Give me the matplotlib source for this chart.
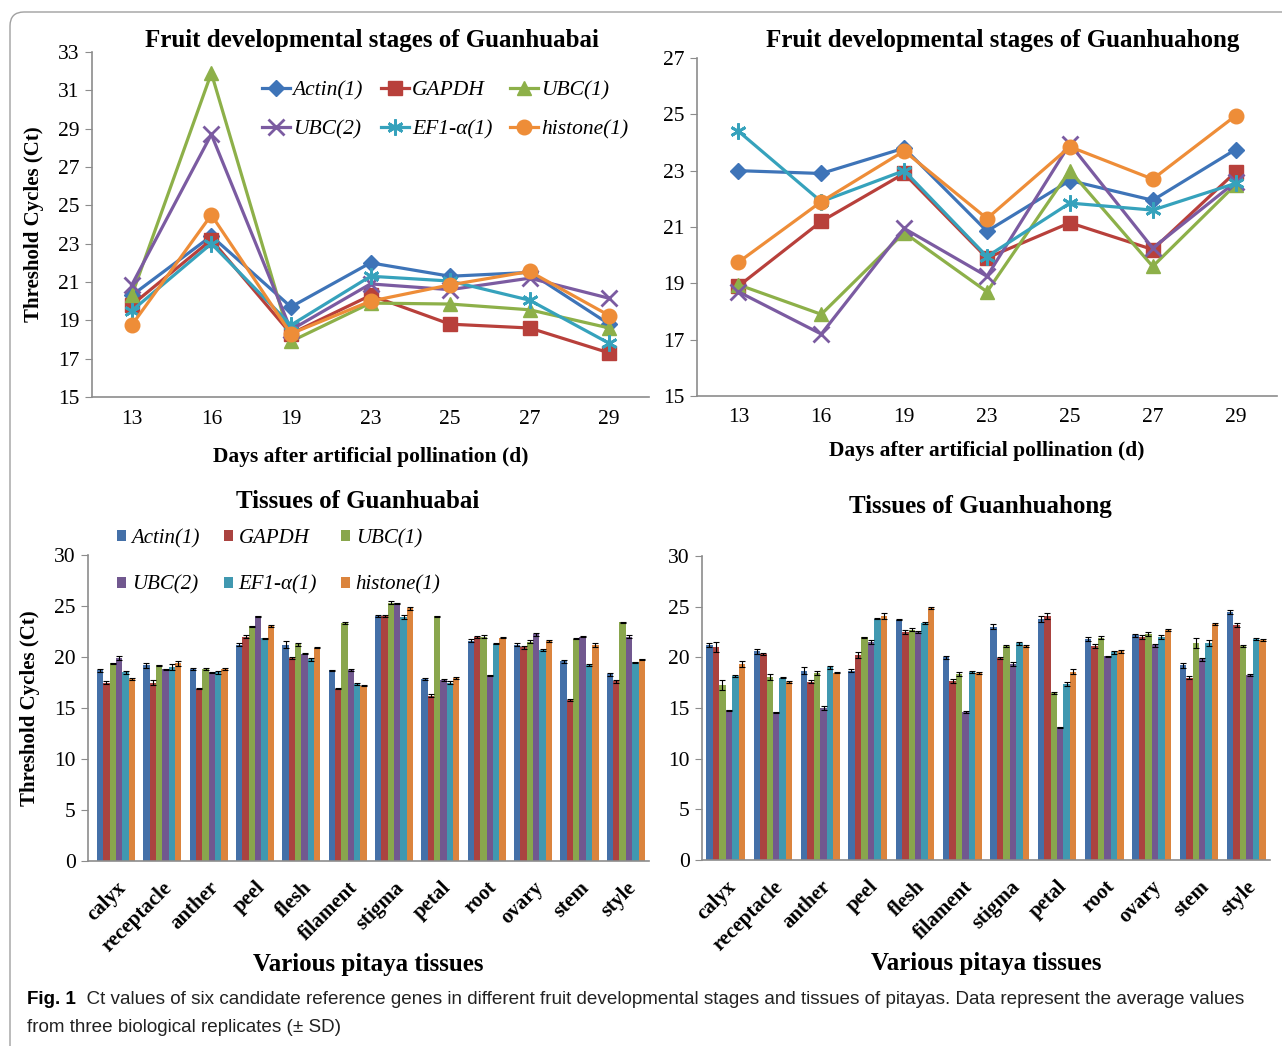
import matplotlib
matplotlib.use("Agg")
import matplotlib.pyplot as plt
import numpy as np
from matplotlib.patches import FancyBboxPatch
from matplotlib.transforms import IdentityTransform

plt.rcParams['font.family'] = ['Liberation Serif', 'DejaVu Serif']

genes = ["Actin(1)", "GAPDH", "UBC(1)", "UBC(2)", "EF1-α(1)", "histone(1)"]
days = ["13", "16", "19", "23", "25", "27", "29"]
tissues = ["calyx", "receptacle", "anther", "peel", "flesh", "filament",
           "stigma", "petal", "root", "ovary", "stem", "style"]

# Fruit developmental stages of Guanhuabai
bai_actin = [20.3, 23.4, 19.7, 22.0, 21.3, 21.5, 18.8]
bai_gapdh = [19.8, 23.2, 18.3, 20.3, 18.8, 18.6, 17.3]
bai_ubc1 = [20.3, 31.9, 17.9, 19.9, 19.85, 19.55, 18.6]
bai_ubc2 = [20.85, 28.7, 18.5, 20.9, 20.6, 21.2, 20.15]
bai_ef1 = [19.5, 23.0, 18.75, 21.3, 21.05, 20.05, 17.8]
bai_histone = [18.75, 24.5, 18.3, 20.0, 20.85, 21.55, 19.25]

# Fruit developmental stages of Guanhuahong
hong_actin = [23.0, 22.9, 23.8, 20.85, 22.65, 21.95, 23.75]
hong_gapdh = [18.9, 21.2, 22.9, 19.9, 21.15, 20.2, 22.95]
hong_ubc1 = [18.95, 17.9, 20.8, 18.7, 23.0, 19.6, 22.5]
hong_ubc2 = [18.7, 17.2, 20.95, 19.25, 23.95, 20.25, 22.6]
hong_ef1 = [24.4, 21.9, 23.0, 19.95, 21.85, 21.6, 22.55]
hong_histone = [19.75, 21.9, 23.7, 21.3, 23.85, 22.7, 24.95]

# Tissues of Guanhuabai
tb_actin = [18.7, 19.2, 18.8, 21.2, 21.2, 18.7, 24.0, 17.8, 21.6, 21.2, 19.6, 18.3]
tb_gapdh = [17.5, 17.5, 16.9, 22.0, 19.9, 16.9, 24.0, 16.2, 22.0, 20.95, 15.8, 17.6]
tb_ubc1 = [19.4, 19.2, 18.8, 23.0, 21.25, 23.3, 25.3, 24.0, 22.0, 21.5, 21.8, 23.4]
tb_ubc2 = [19.9, 18.8, 18.5, 24.0, 20.3, 18.75, 25.25, 17.7, 18.2, 22.25, 22.0, 22.0]
tb_ef1 = [18.5, 19.0, 18.5, 21.85, 19.8, 17.4, 23.95, 17.5, 21.3, 20.7, 19.2, 19.5]
tb_histone = [17.8, 19.4, 18.8, 23.0, 20.9, 17.2, 24.8, 17.9, 21.9, 21.6, 21.2, 19.8]

tb_actin_sd = [0.15, 0.25, 0.1, 0.15, 0.35, 0.05, 0.1, 0.1, 0.15, 0.15, 0.15, 0.15]
tb_gapdh_sd = [0.15, 0.2, 0.05, 0.15, 0.1, 0.05, 0.1, 0.15, 0.1, 0.15, 0.1, 0.15]
tb_ubc1_sd = [0.05, 0.05, 0.1, 0.05, 0.15, 0.1, 0.15, 0.05, 0.15, 0.15, 0.05, 0.05]
tb_ubc2_sd = [0.15, 0.05, 0.05, 0.05, 0.05, 0.1, 0.05, 0.1, 0.05, 0.15, 0.05, 0.15]
tb_ef1_sd = [0.15, 0.3, 0.15, 0.05, 0.15, 0.1, 0.2, 0.1, 0.05, 0.1, 0.1, 0.05]
tb_histone_sd = [0.1, 0.25, 0.1, 0.1, 0.05, 0.05, 0.15, 0.1, 0.05, 0.1, 0.2, 0.05]

# Tissues of Guanhuahong
th_actin = [21.2, 20.6, 18.7, 18.7, 23.7, 20.0, 23.0, 23.8, 21.8, 22.2, 19.2, 24.5]
th_gapdh = [21.0, 20.3, 17.6, 20.2, 22.5, 17.7, 19.9, 24.05, 21.1, 22.0, 18.0, 23.2]
th_ubc1 = [17.3, 18.1, 18.5, 22.0, 22.7, 18.4, 21.1, 16.5, 21.95, 22.3, 21.4, 21.1]
th_ubc2 = [14.8, 14.6, 15.0, 21.5, 22.5, 14.6, 19.3, 13.1, 20.1, 21.2, 19.8, 18.3]
th_ef1 = [18.2, 18.0, 19.0, 23.8, 23.4, 18.6, 21.4, 17.35, 20.5, 22.0, 21.4, 21.8]
th_histone = [19.3, 17.6, 18.5, 24.1, 24.9, 18.5, 21.1, 18.6, 20.6, 22.7, 23.3, 21.75]

th_actin_sd = [0.2, 0.25, 0.3, 0.1, 0.05, 0.15, 0.25, 0.3, 0.2, 0.15, 0.25, 0.2]
th_gapdh_sd = [0.5, 0.1, 0.15, 0.3, 0.2, 0.2, 0.1, 0.3, 0.2, 0.2, 0.15, 0.2]
th_ubc1_sd = [0.5, 0.3, 0.2, 0.05, 0.15, 0.2, 0.1, 0.1, 0.15, 0.2, 0.5, 0.1]
th_ubc2_sd = [0.05, 0.05, 0.2, 0.2, 0.05, 0.1, 0.2, 0.05, 0.05, 0.15, 0.15, 0.1]
th_ef1_sd = [0.1, 0.05, 0.15, 0.05, 0.1, 0.1, 0.15, 0.2, 0.15, 0.2, 0.3, 0.1]
th_histone_sd = [0.3, 0.1, 0.05, 0.3, 0.1, 0.1, 0.1, 0.25, 0.15, 0.1, 0.1, 0.1]

line_colors = ['#3E74B8', '#B8403B', '#8DB049', '#7B5BA1', '#36A2BC', '#EE8D38']
bar_colors = ['#4470A8', '#AA4340', '#89A64D', '#71588F', '#4098B0', '#DB843D']
markers = ['D', 's', '^', 'x', (6, 2, 0), 'o']
msizes = [8.5, 9.5, 10.5, 11, 11.5, 10.5]

W, H = 1282, 1046
fig = plt.figure(figsize=(W / 100, H / 100), dpi=100)


def ax_px(l, r, t, b):
    return fig.add_axes([l / W, 1 - b / H, (r - l) / W, (b - t) / H])


def style_axes(ax):
    for s in ['top', 'right']:
        ax.spines[s].set_visible(False)
    for s in ['left', 'bottom']:
        ax.spines[s].set_color('#8c8c8c')
        ax.spines[s].set_linewidth(1.2)
    ax.tick_params(axis='y', direction='out', length=5, color='#8c8c8c',
                   labelsize=15.5, pad=4)
    ax.tick_params(axis='x', length=0, labelsize=15.5, pad=9)


def line_panel(ax, series, ymin, ymax):
    x = np.arange(len(days))
    for i, s in enumerate(series):
        mk = markers[i]
        ax.plot(x, s, color=line_colors[i], lw=2.3, marker=mk,
                markersize=msizes[i], markeredgewidth=2 if mk in ('x', (6, 2, 0)) else 1,
                markeredgecolor=line_colors[i], label=genes[i], zorder=3)
    ax.set_xlim(-0.5, len(days) - 0.5)
    ax.set_ylim(ymin, ymax)
    ax.set_yticks(np.arange(ymin, ymax + 1, 2))
    ax.set_xticks(x)
    ax.set_xticklabels(days)
    style_axes(ax)


def bar_panel(ax, series, sds, xleft):
    x = np.arange(len(tissues))
    bw = 0.137
    for i, (s, e) in enumerate(zip(series, sds)):
        off = (i - 2.5) * bw
        ax.bar(x + off, s, width=bw, color=bar_colors[i], label=genes[i], zorder=2,
               linewidth=0)
        ax.errorbar(x + off, s, yerr=e, fmt='none', ecolor='black', elinewidth=0.8,
                    capsize=2.5, capthick=0.8, zorder=3)
    ax.set_xlim(xleft, len(tissues) - 0.5)
    ax.set_ylim(0, 30)
    ax.set_yticks(np.arange(0, 31, 5))
    ax.set_xticks(x)
    style_axes(ax)
    ax.set_xticklabels(tissues, rotation=45, ha='right', va='top',
                       rotation_mode='anchor', fontweight='bold', fontsize=15)
    ax.tick_params(axis='x', pad=12)


title_fs = 18
# Top-left
ax1 = ax_px(92, 649, 52, 397)
line_panel(ax1, [bai_actin, bai_gapdh, bai_ubc1, bai_ubc2, bai_ef1, bai_histone], 15, 33)
fig.text(372 / W, 1 - 41 / H, "Fruit developmental stages of Guanhuabai", fontsize=title_fs,
         fontweight='bold', ha='center', va='center')
ax1.set_xlabel("Days after artificial pollination (d)", fontsize=15.5,
               fontweight='bold', labelpad=13)
ax1.set_ylabel("Threshold Cycles (Ct)", fontsize=15, fontweight='bold', labelpad=10)
h, l = ax1.get_legend_handles_labels()
order = [0, 3, 1, 4, 2, 5]
fig.legend([h[k] for k in order], [l[k] for k in order], ncol=3, loc='upper left',
           bbox_to_anchor=(262 / W, 1 - 80 / H), frameon=False, borderaxespad=0,
           borderpad=0, prop={'style': 'italic', 'size': 15.5}, handlelength=1.3,
           handletextpad=0.12, columnspacing=0.85, labelspacing=0.9)

# Top-right
ax2 = ax_px(697, 1277, 58, 396)
line_panel(ax2, [hong_actin, hong_gapdh, hong_ubc1, hong_ubc2, hong_ef1, hong_histone], 15, 27)
fig.text(1003 / W, 1 - 41 / H, "Fruit developmental stages of Guanhuahong", fontsize=title_fs,
         fontweight='bold', ha='center', va='center')
ax2.set_xlabel("Days after artificial pollination (d)", fontsize=15.5,
               fontweight='bold', labelpad=10)

# Bottom-left
ax3 = ax_px(88, 649, 555, 861)
bar_panel(ax3, [tb_actin, tb_gapdh, tb_ubc1, tb_ubc2, tb_ef1, tb_histone],
          [tb_actin_sd, tb_gapdh_sd, tb_ubc1_sd, tb_ubc2_sd, tb_ef1_sd, tb_histone_sd], -0.604)
ax3.set_ylabel("Threshold Cycles (Ct)", fontsize=15, fontweight='bold', labelpad=10)
ax3.set_xlabel("Various pitaya tissues", fontsize=18, fontweight='bold', labelpad=-2)
fig.text(358 / W, 1 - 502 / H, "Tissues of Guanhuabai", fontsize=title_fs,
         fontweight='bold', ha='center', va='center')
h3, l3 = ax3.get_legend_handles_labels()
fig.legend([h3[k] for k in order], [l3[k] for k in order], ncol=3, loc='upper left',
           bbox_to_anchor=(117 / W, 1 - 529 / H), frameon=False, borderaxespad=0,
           borderpad=0, prop={'style': 'italic', 'size': 15}, handlelength=0.45,
           handleheight=0.45, handletextpad=0.25, columnspacing=1.15, labelspacing=1.3)

# Bottom-right
ax4 = ax_px(702, 1270, 556, 860)
bar_panel(ax4, [th_actin, th_gapdh, th_ubc1, th_ubc2, th_ef1, th_histone],
          [th_actin_sd, th_gapdh_sd, th_ubc1_sd, th_ubc2_sd, th_ef1_sd, th_histone_sd], -0.5)
ax4.set_xlabel("Various pitaya tissues", fontsize=18, fontweight='bold', labelpad=-2)
fig.text(980 / W, 1 - 507 / H, "Tissues of Guanhuahong", fontsize=title_fs,
         fontweight='bold', ha='center', va='center')

# Caption
cap_font = ['Liberation Sans Narrow', 'Liberation Sans', 'DejaVu Sans']
t1 = fig.text(27 / W, 1 - 1000 / H, "Fig. 1", fontsize=13.5, fontweight='bold',
              family=cap_font, va='center', ha='left')
fig.canvas.draw()
plt.annotate("  Ct values of six candidate reference genes in different fruit developmental stages "
             "and tissues of pitayas. Data represent the average values",
             xy=(1, 0), xycoords=t1, va='bottom', ha='left', fontsize=13.6,
             family=cap_font, annotation_clip=False, color='#222222')
fig.text(27 / W, 1 - 1027 / H, "from three biological replicates (\u00b1 SD)",
         fontsize=13.6, family=cap_font, va='center', ha='left', color='#222222')

# border
border = FancyBboxPatch((10, -40), 1320, H - 12 + 40,
                        boxstyle="round,pad=0,rounding_size=14",
                        transform=IdentityTransform(), fill=False,
                        ec='#a0a0a0', lw=1.0)
fig.add_artist(border)

fig.savefig("out.png", dpi=100)
